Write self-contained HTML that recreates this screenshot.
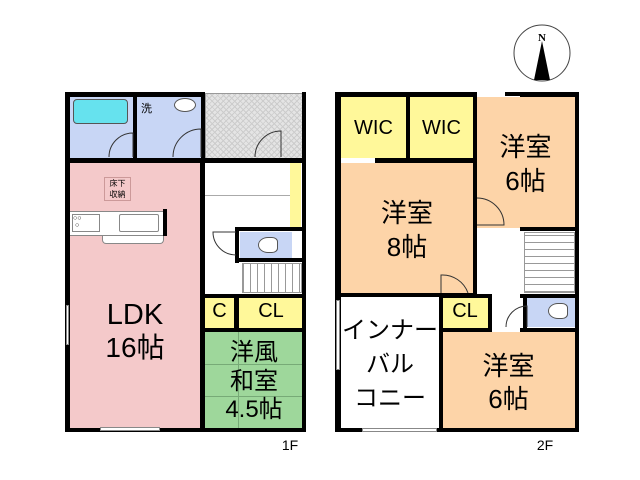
<!DOCTYPE html>
<html><head><meta charset="utf-8"><style>
body{margin:0;width:640px;height:480px;background:#fff;position:relative;overflow:hidden;font-family:"Liberation Sans","Noto Sans CJK JP",sans-serif}
div{position:absolute;box-sizing:border-box}
.w{background:#000}
.t{text-align:center;color:#000;line-height:1}
</style></head><body>
<!-- 1F rooms -->
<div style="left:205px;top:93px;width:99px;height:66px;background:#e4e4e4;background-image:repeating-linear-gradient(45deg,#ccc 0 1px,transparent 1px 4px),repeating-linear-gradient(-45deg,#ccc 0 1px,transparent 1px 4px);border:1px solid #999"></div>
<div style="left:69px;top:96px;width:64px;height:62px;background:#c8d6f5"></div>
<div style="left:73px;top:99px;width:55px;height:25px;background:#66e2ee;border:1px solid #555;border-radius:4px"></div>
<div style="left:137px;top:96px;width:64px;height:62px;background:#c8d6f5"></div>
<div style="left:174px;top:98px;width:22px;height:14px;border:1px solid #555;border-radius:50%;background:#fff"></div>
<div class="t" style="left:141px;top:104px;font-size:11px">洗</div>
<div style="left:69px;top:163px;width:132px;height:265px;background:#f4c9ca"></div>
<div style="left:104px;top:177px;width:27px;height:24px;border:1px solid #c99;font-size:8px;line-height:11px;text-align:center">床下<br>収納</div>
<div style="left:69px;top:211px;width:95px;height:25px;background:#fff;border:1px solid #888"></div>
<div style="left:102px;top:236px;width:62px;height:8px;background:#fff;border:1px solid #888;border-top:none;border-radius:0 0 4px 4px"></div>
<div style="left:119px;top:214px;width:40px;height:18px;border:1px solid #888;border-radius:2px"></div>
<div style="left:72px;top:214px;width:28px;height:18px;border:1px solid #888;font-size:7px">○○<br>&nbsp;○</div>
<div class="w" style="left:163px;top:209px;width:4px;height:27px"></div>
<div style="left:290px;top:163px;width:11px;height:64px;background:#fff89a"></div>
<div style="left:205px;top:195px;width:85px;height:1px;background:#aaa"></div>
<div style="left:240px;top:232px;width:52px;height:26px;background:#c8d6f5"></div>
<div style="left:258px;top:237px;width:20px;height:16px;border:1px solid #555;border-radius:50% 30% 30% 50%;background:#fff"></div>
<div style="left:242px;top:263px;width:60px;height:30px;background:repeating-linear-gradient(90deg,#999 0 1px,#fff 1px 7px);border:1px solid #999"></div>
<div style="left:205px;top:298px;width:29px;height:30px;background:#fff89a"></div>
<div style="left:239px;top:298px;width:64px;height:30px;background:#fff89a"></div>
<div style="left:205px;top:332px;width:98px;height:96px;background:#9ed79b;background-image:linear-gradient(#7a7 0 0),linear-gradient(#7a7 0 0),linear-gradient(#7a7 0 0);background-size:1px 100%,100% 1px,100% 1px;background-position:33px 0,0 32px,0 64px;background-repeat:no-repeat"></div>
<!-- 1F walls -->
<div class="w" style="left:65px;top:92px;width:140px;height:5px"></div>
<div class="w" style="left:65px;top:92px;width:5px;height:340px"></div>
<div class="w" style="left:65px;top:428px;width:240px;height:4px"></div>
<div class="w" style="left:302px;top:92px;width:4px;height:340px"></div>
<div class="w" style="left:65px;top:158px;width:240px;height:5px"></div>
<div class="w" style="left:133px;top:92px;width:4px;height:70px"></div>
<div class="w" style="left:201px;top:92px;width:4px;height:70px"></div>
<div class="w" style="left:200px;top:158px;width:5px;height:274px"></div>
<div class="w" style="left:235px;top:227px;width:70px;height:4px"></div>
<div class="w" style="left:235px;top:227px;width:4px;height:36px"></div>
<div class="w" style="left:235px;top:258px;width:70px;height:4px"></div>
<div class="w" style="left:200px;top:294px;width:105px;height:4px"></div>
<div class="w" style="left:200px;top:328px;width:105px;height:4px"></div>
<div class="w" style="left:234px;top:294px;width:5px;height:36px"></div>
<div style="left:100px;top:427px;width:60px;height:4px;background:#fff;border:1px solid #888"></div>
<div style="left:66px;top:305px;width:3px;height:40px;background:#fff;border:1px solid #888"></div>
<!-- 1F labels -->
<div class="t" style="left:70px;top:301px;width:130px;font-size:29px">LDK</div>
<div class="t" style="left:70px;top:334px;width:130px;font-size:28px">16帖</div>
<div class="t" style="left:205px;top:301px;width:29px;font-size:20px">C</div>
<div class="t" style="left:239px;top:301px;width:64px;font-size:20px">CL</div>
<div class="t" style="left:205px;top:341px;width:98px;font-size:24px">洋風</div>
<div class="t" style="left:205px;top:370px;width:98px;font-size:24px">和室</div>
<div class="t" style="left:205px;top:398px;width:98px;font-size:24px">4.5帖</div>
<div class="t" style="left:275px;top:438px;width:30px;font-size:14px">1F</div>
<!-- 2F rooms -->
<div style="left:341px;top:97px;width:65px;height:61px;background:#fff89a"></div>
<div style="left:410px;top:97px;width:63px;height:61px;background:#fff89a"></div>
<div style="left:476px;top:97px;width:99px;height:131px;background:#fdd4a8"></div>
<div style="left:341px;top:163px;width:132px;height:130px;background:#fdd4a8"></div>
<div style="left:524px;top:232px;width:51px;height:61px;background:repeating-linear-gradient(0deg,#999 0 1px,#fff 1px 7px);border:1px solid #999"></div>
<div style="left:442px;top:298px;width:46px;height:30px;background:#fff89a"></div>
<div style="left:527px;top:298px;width:48px;height:29px;background:#c8d6f5"></div>
<div style="left:548px;top:303px;width:20px;height:16px;border:1px solid #555;border-radius:50% 30% 30% 50%;background:#fff"></div>
<div style="left:442px;top:332px;width:133px;height:96px;background:#fdd4a8"></div>
<!-- 2F walls -->
<div class="w" style="left:335px;top:92px;width:140px;height:5px"></div>
<div class="w" style="left:520px;top:92px;width:59px;height:5px"></div>
<div class="w" style="left:335px;top:92px;width:6px;height:340px"></div>
<div class="w" style="left:575px;top:92px;width:4px;height:340px"></div>
<div class="w" style="left:335px;top:428px;width:244px;height:4px"></div>
<div class="w" style="left:406px;top:92px;width:4px;height:70px"></div>
<div class="w" style="left:473px;top:92px;width:4px;height:205px"></div>
<div class="w" style="left:375px;top:158px;width:102px;height:5px"></div>
<div class="w" style="left:520px;top:227px;width:59px;height:4px"></div>
<div class="w" style="left:335px;top:293px;width:142px;height:4px"></div>
<div class="w" style="left:439px;top:294px;width:4px;height:138px"></div>
<div class="w" style="left:439px;top:294px;width:53px;height:4px"></div>
<div class="w" style="left:488px;top:294px;width:4px;height:38px"></div>
<div class="w" style="left:520px;top:294px;width:59px;height:4px"></div>
<div class="w" style="left:439px;top:328px;width:53px;height:4px"></div>
<div class="w" style="left:520px;top:328px;width:59px;height:4px"></div>
<div class="w" style="left:523px;top:294px;width:4px;height:36px"></div>
<div style="left:336px;top:300px;width:4px;height:70px;background:#fff;border:1px solid #888"></div>
<div style="left:362px;top:428px;width:75px;height:4px;background:#fff;border:1px solid #888"></div>
<!-- door arcs -->
<svg style="position:absolute;left:0;top:0" width="640" height="480" fill="none" stroke="#333" stroke-width="1">
<path d="M109,157 A24,24 0 0 1 133,133 V157"/>
<path d="M173,157 A28,28 0 0 1 201,129 V157"/>
<path d="M255,157 A26,26 0 0 1 281,131 V157"/>
<path d="M236,232 H213 A23,23 0 0 0 236,255"/>
<path d="M477,198 A27,27 0 0 1 504,225 H477"/>
<path d="M441,293 V275 A27,27 0 0 1 468,293"/>
<path d="M525,298 A0,0 0 0 0 525,298 M506,327 A21,21 0 0 1 527,306 V327"/>
</svg>
<!-- 2F labels -->
<div class="t" style="left:341px;top:118px;width:65px;font-size:20px">WIC</div>
<div class="t" style="left:410px;top:118px;width:63px;font-size:20px">WIC</div>
<div class="t" style="left:476px;top:134px;width:99px;font-size:26px">洋室</div>
<div class="t" style="left:476px;top:168px;width:99px;font-size:26px">6帖</div>
<div class="t" style="left:341px;top:200px;width:132px;font-size:26px">洋室</div>
<div class="t" style="left:341px;top:234px;width:132px;font-size:26px">8帖</div>
<div class="t" style="left:442px;top:301px;width:46px;font-size:20px">CL</div>
<div class="t" style="left:341px;top:319px;width:98px;font-size:24px">インナー</div>
<div class="t" style="left:341px;top:353px;width:98px;font-size:24px">バル</div>
<div class="t" style="left:341px;top:387px;width:98px;font-size:24px">コニー</div>
<div class="t" style="left:442px;top:353px;width:133px;font-size:26px">洋室</div>
<div class="t" style="left:442px;top:386px;width:133px;font-size:26px">6帖</div>
<div class="t" style="left:530px;top:438px;width:30px;font-size:14px">2F</div>
<!-- compass -->
<svg style="position:absolute;left:512px;top:22px" width="60" height="64">
<circle cx="30" cy="31" r="28" fill="none" stroke="#444" stroke-width="1"/>
<polygon points="30,19 22,58 38,58" fill="#000"/>
<text x="30" y="19" font-size="11" font-weight="bold" text-anchor="middle" font-family="Liberation Serif,serif">N</text>
</svg>
<div style="left:505px;top:92px;width:70px;height:4px;background:#000"></div>
</body></html>
